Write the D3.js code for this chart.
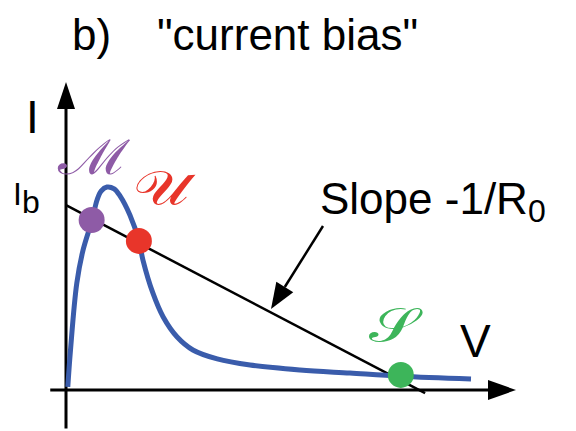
<!DOCTYPE html>
<html><head><meta charset="utf-8">
<script src="https://cdn.jsdelivr.net/npm/d3@7"></script>
<style>
html,body{margin:0;padding:0;background:#fff;}
svg{display:block;font-family:"Liberation Sans",Arial,sans-serif;}
</style></head>
<body>
<svg id="chart" width="576" height="431"></svg>
<script>
// I–V curve (V, I) in arbitrary units
const curveV = [0.04,0.10,0.24,0.38,0.58,0.69,0.78,0.91,1.07,1.20,1.42,1.62,1.71,1.93,2.16,2.47,2.82,3.36,4.09,5.20,6.31,7.44,9.00];
const curveI = [0.10,1.30,3.47,4.55,5.52,6.17,6.46,6.59,6.53,6.30,5.68,4.84,4.22,3.15,2.37,1.72,1.30,1.01,0.81,0.65,0.55,0.45,0.36];
// Load line: I = Ib - V/R0
const loadV = [0, 7.98];
const loadI = [6.0, -0.10];
// Operating points
const pointNames = ["M","U","S"];
const pointLabels = ["\u2133","\uD835\uDCB0","\uD835\uDCAE"];
const pointV = [0.57, 1.62, 7.44];
const pointI = [5.52, 4.84, 0.49];
const pointColors = ["#8e5ba6","#e8352a","#3db55a"];

const svg = d3.select("#chart");
const x = d3.scaleLinear().domain([0,10]).range([66,516]);
const y = d3.scaleLinear().domain([0,10]).range([390,82]);

// title
svg.append("text").attr("x",72).attr("y",50).attr("font-size",44).text("b)");
svg.append("text").attr("x",157).attr("y",50).attr("font-size",44).text("\"current bias\"");

// axes
svg.append("line").attr("x1",x(-0.35)).attr("x2",x(9.5)).attr("y1",y(0)).attr("y2",y(0))
  .attr("stroke","#000").attr("stroke-width",3);
svg.append("line").attr("x1",x(0)).attr("x2",x(0)).attr("y1",y(-1.25)).attr("y2",y(9.3))
  .attr("stroke","#000").attr("stroke-width",3);
// arrowheads
const xt = x(10), yt = y(10);
svg.append("path").attr("d",`M${xt},${y(0)} L${xt-28},${y(0)-10} L${xt-28},${y(0)+10} Z`).attr("fill","#000");
svg.append("path").attr("d",`M${x(0)},${yt} L${x(0)-9},${yt+27} L${x(0)+9},${yt+27} Z`).attr("fill","#000");

// axis labels
svg.append("text").attr("x",26).attr("y",133).attr("font-size",46).text("I");
const ib = svg.append("text").attr("x",13).attr("y",205).attr("font-size",32);
ib.append("tspan").text("I");
ib.append("tspan").attr("dy",8).text("b");
svg.append("text").attr("x",460).attr("y",357).attr("font-size",46).text("V");

// load line
svg.append("line").attr("x1",x(loadV[0])).attr("y1",y(loadI[0]))
  .attr("x2",x(loadV[1])).attr("y2",y(loadI[1]))
  .attr("stroke","#000").attr("stroke-width",2.5);

// I-V curve
const pts = curveV.map((v,i)=>[v,curveI[i]]);
svg.append("path").datum(pts)
  .attr("d",d3.line().x(d=>x(d[0])).y(d=>y(d[1])).curve(d3.curveCatmullRom.alpha(0.5)))
  .attr("fill","none").attr("stroke","#3a5cab").attr("stroke-width",5).attr("stroke-linecap","butt");

// slope annotation
svg.append("text").attr("x",320).attr("y",214).attr("font-size",44)
  .call(t=>{t.append("tspan").text("Slope -1/R"); t.append("tspan").attr("dy",8).attr("font-size",32).text("0");});
const ax1=[323,226], ax2=[271,309];
const ang = Math.atan2(ax2[1]-ax1[1], ax2[0]-ax1[0]);
const hl=26, hw=10;
const bx = ax2[0]-hl*Math.cos(ang), by = ax2[1]-hl*Math.sin(ang);
svg.append("line").attr("x1",ax1[0]).attr("y1",ax1[1]).attr("x2",bx).attr("y2",by).attr("stroke","#000").attr("stroke-width",2.5);
svg.append("path").attr("d",`M${ax2[0]},${ax2[1]} L${bx+hw*Math.sin(ang)},${by-hw*Math.cos(ang)} L${bx-hw*Math.sin(ang)},${by+hw*Math.cos(ang)} Z`).attr("fill","#000");

// points
svg.selectAll("circle.pt").data(pointV).enter().append("circle").attr("class","pt")
  .attr("cx",(d)=>x(d)).attr("cy",(d,i)=>y(pointI[i])).attr("r",13)
  .attr("fill",(d,i)=>pointColors[i]);

// point labels
const labelPos = [[94,174],[161,205],[393,342]];
svg.selectAll("text.pl").data(pointLabels).enter().append("text").attr("class","pl")
  .attr("transform",(d,i)=>`translate(${labelPos[i][0]},${labelPos[i][1]}) scale(1.3,1)`)
  .attr("text-anchor","middle").attr("font-size",48)
  .attr("font-family","'DejaVu Serif','Liberation Serif',serif")
  .attr("fill",(d,i)=>pointColors[i]).text(d=>d);
</script>
</body></html>
